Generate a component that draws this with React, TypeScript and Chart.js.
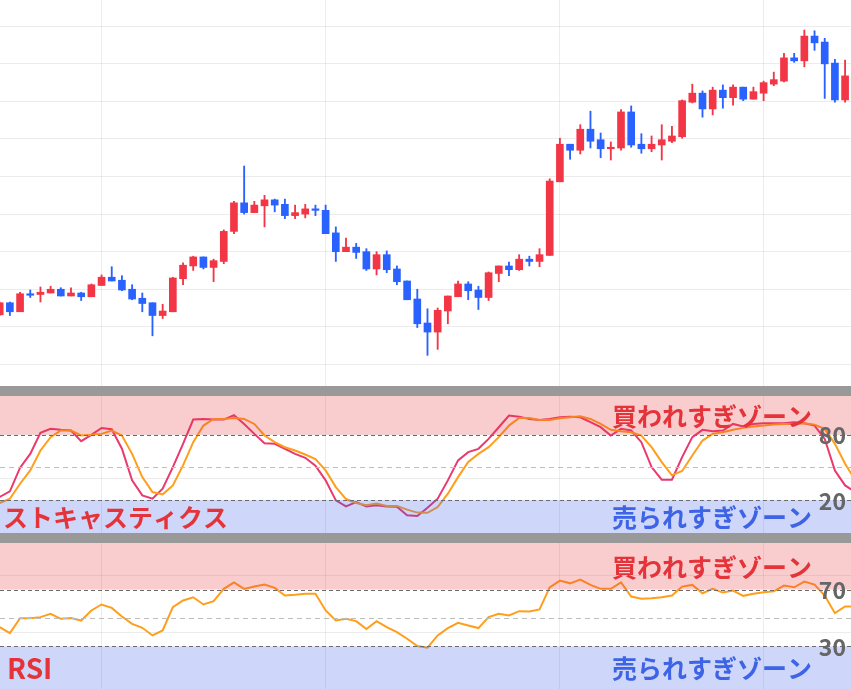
import React, { useEffect, useRef } from "react";
import { Chart, registerables } from "chart.js";

Chart.register(...registerables);

// ---------------- data ----------------
const opens = [
  2066, 2082, 2070, 2094, 2093, 2095, 2100, 2091, 2095, 2090,
  2105, 2116, 2112, 2100, 2088, 2082, 2065, 2070, 2114, 2131,
  2143, 2129, 2137, 2177, 2215, 2202, 2211, 2219, 2213, 2198,
  2200, 2207, 2205, 2175, 2150, 2156, 2150, 2127, 2146, 2127,
  2111, 2087, 2055, 2043, 2071, 2090, 2107, 2099, 2089, 2121,
  2131, 2126, 2140, 2137, 2145, 2243, 2293, 2285, 2313, 2299,
  2287, 2288, 2336, 2293, 2287, 2292, 2297, 2303, 2349, 2361,
  2340, 2365, 2355, 2369, 2353, 2361, 2373, 2377, 2408, 2404,
  2437, 2429, 2401, 2352,
];
const highs = [
  2083, 2083, 2096, 2099, 2103, 2104, 2102, 2102, 2096, 2107,
  2119, 2130, 2118, 2106, 2095, 2082, 2080, 2116, 2135, 2144,
  2143, 2140, 2179, 2217, 2264, 2217, 2225, 2220, 2220, 2212,
  2213, 2212, 2212, 2183, 2168, 2161, 2154, 2150, 2151, 2131,
  2111, 2100, 2074, 2075, 2091, 2111, 2110, 2104, 2123, 2131,
  2136, 2146, 2144, 2154, 2247, 2301, 2293, 2319, 2337, 2308,
  2296, 2339, 2344, 2307, 2304, 2319, 2317, 2352, 2373, 2364,
  2369, 2372, 2372, 2369, 2369, 2377, 2389, 2414, 2414, 2445,
  2444, 2434, 2406, 2405,
];
const lows = [
  2065, 2065, 2070, 2089, 2083, 2095, 2091, 2091, 2085, 2090,
  2105, 2111, 2098, 2086, 2070, 2038, 2061, 2070, 2106, 2125,
  2127, 2110, 2134, 2174, 2200, 2202, 2183, 2203, 2194, 2194,
  2195, 2198, 2174, 2137, 2150, 2141, 2125, 2119, 2122, 2106,
  2086, 2049, 2012, 2020, 2054, 2090, 2086, 2073, 2085, 2110,
  2118, 2125, 2131, 2130, 2145, 2243, 2273, 2280, 2288, 2275,
  2272, 2285, 2289, 2281, 2283, 2272, 2295, 2301, 2348, 2329,
  2332, 2341, 2345, 2351, 2353, 2351, 2371, 2376, 2402, 2396,
  2418, 2354, 2349, 2349,
];
const closes = [
  2082, 2070, 2094, 2092, 2096, 2100, 2091, 2095, 2090, 2106,
  2116, 2111, 2099, 2087, 2081, 2065, 2071, 2115, 2132, 2143,
  2129, 2138, 2177, 2215, 2202, 2212, 2219, 2212, 2198, 2202,
  2207, 2205, 2174, 2150, 2156, 2149, 2127, 2146, 2126, 2110,
  2086, 2054, 2043, 2072, 2091, 2107, 2098, 2089, 2122, 2131,
  2126, 2140, 2137, 2146, 2244, 2293, 2285, 2313, 2297, 2287,
  2289, 2336, 2292, 2287, 2293, 2299, 2304, 2351, 2361, 2340,
  2365, 2355, 2369, 2353, 2363, 2375, 2379, 2408, 2404, 2437,
  2428, 2400, 2352, 2384,
];

const stochK = [
  22.8, 28, 49.6, 62.3, 81.5, 85.2, 84.3, 83.7, 73.9, 79.7,
  86, 84.9, 67, 38, 24.3, 21.2, 30.4, 50.2, 71.5, 93.7,
  94.3, 93.7, 93.7, 97.7, 89.7, 80.6, 72, 71.5, 67, 62.3,
  58.7, 51.4, 38, 19.7, 14.2, 18.2, 14, 15.2, 14, 13.9,
  6, 5.4, 13, 21.2, 38, 56.3, 63.9, 66.9, 76, 86.7,
  97.4, 96.4, 94.3, 93.4, 94.3, 95.8, 96.4, 95.8, 91.3, 86.7,
  79.1, 85.2, 83.7, 73, 50.2, 38.6, 38.6, 59.3, 77.6, 84.3,
  83, 83.7, 89.7, 87.3, 89.7, 90.4, 90.4, 90.4, 91.3, 90.4,
  88.2, 76, 47.1, 33.4, 27.3,
];
const stochD = [
  17.3, 21.2, 34.9, 47.1, 65.4, 77.6, 83.7, 83.7, 79.1, 79.7,
  80.6, 83.7, 79.1, 62.3, 41, 27.3, 25.2, 33.4, 51.7, 73,
  88.2, 94.3, 94.3, 95.2, 94.3, 89.7, 79.1, 73, 68.4, 65.4,
  61.7, 57.5, 47.1, 31.9, 20.9, 17.3, 15.2, 16.7, 14.6, 14.6,
  11.2, 8.5, 8.3, 13.6, 25.8, 41, 54.8, 62.3, 68.4, 77.6,
  88.2, 95.2, 95.2, 93.4, 93.4, 94.9, 95.8, 96.7, 94.3, 89.7,
  84.3, 83, 82.1, 79.1, 68.4, 54.8, 42.6, 46.6, 60.8, 74.5,
  80.6, 82.1, 84.3, 86.1, 87.3, 88.2, 89.1, 89.7, 89.7, 90.4,
  89.1, 85.2, 71.5, 53.3, 38,
];
const rsi = [
  43.6, 39.4, 49.9, 49.9, 50.6, 52.9, 49.4, 49.9, 48.2, 55.3,
  59.5, 57.1, 51, 45.9, 43.1, 37.7, 41.2, 57.6, 62.3, 64.6,
  59.5, 61.8, 70.5, 75.1, 70.5, 72.1, 73.5, 71.2, 65.8, 66.3,
  67, 67, 55.3, 48.2, 49.4, 47.8, 42.2, 47.8, 43.6, 40,
  35.4, 30.2, 29.1, 37.7, 42.9, 46.6, 44.7, 42.9, 50.6, 52.9,
  51.8, 54.8, 54.6, 56, 71.6, 76.3, 74.4, 77, 73.3, 70.5,
  70.5, 75.1, 65.1, 63.5, 63.9, 64.6, 65.8, 72.1, 73.3, 67.4,
  70.5, 67.9, 69.3, 65.6, 67, 68.1, 68.8, 72.8, 71.6, 75.6,
  73.5, 65.8, 53.4, 58.1, 58.1,
];

const monthStartIdx = [10, 32, 55, 75];
const priceGrid = [2000, 2050, 2100, 2150, 2200, 2250, 2300, 2350, 2400, 2450];
const oscGrid = [40, 80];
const stochLevels = [80, 50, 20];
const rsiLevels = [70, 50, 30];
const stochTitle = "ストキャスティクス";
const rsiTitle = "RSI";
const overboughtLabel = "買われすぎゾーン";
const oversoldLabel = "売られすぎゾーン";

// ---------------- styles ----------------
const W = 851;
const X_MIN = 0.03;
const X_MAX = 83.58;
const UP = "#f23645";
const DOWN = "#2962ff";
const GRID = "rgba(0,0,0,0.075)";
const K_COLOR = "#e9396f";
const D_COLOR = "#ff9e1b";
const TEXT_RED = "#e5333a";
const TEXT_BLUE = "#3d63e6";
const JP = '"Noto Sans CJK JP", "Noto Sans", sans-serif';

const xScale = (): any => ({
  type: "linear",
  min: X_MIN,
  max: X_MAX,
  offset: false,
  grid: { color: GRID, drawTicks: false, lineWidth: 1, offset: false },
  border: { display: false },
  ticks: { display: false },
  afterBuildTicks: (s: any) => {
    s.ticks = monthStartIdx.map((v) => ({ value: v }));
  },
});

const yScale = (min: number, max: number, grid: number[]): any => ({
  type: "linear",
  min,
  max,
  grid: { color: GRID, drawTicks: false, lineWidth: 1, offset: false },
  border: { display: false },
  ticks: { display: false },
  afterBuildTicks: (s: any) => {
    s.ticks = grid.map((v) => ({ value: v }));
  },
});

const zonePlugin = {
  id: "zones",
  afterDatasetsDraw(chart: any, _args: any, opts: any) {
    const { ctx, chartArea: a } = chart;
    const y = chart.scales.y;
    const [upper, mid, lower] = opts.levels as number[];
    const yU = y.getPixelForValue(upper);
    const yM = y.getPixelForValue(mid);
    const yL = y.getPixelForValue(lower);
    ctx.save();
    ctx.fillStyle = "rgba(230,50,60,0.25)";
    ctx.fillRect(a.left, a.top, a.width, yU - a.top);
    ctx.fillStyle = "rgba(60,95,235,0.25)";
    ctx.fillRect(a.left, yL, a.width, a.bottom - yL);

    ctx.lineWidth = 1;
    const hline = (yy: number) => {
      const p = Math.round(yy) + 0.5;
      ctx.beginPath();
      ctx.moveTo(a.left, p);
      ctx.lineTo(a.right, p);
      ctx.stroke();
    };
    ctx.setLineDash([4, 3]);
    ctx.strokeStyle = "#6b6b6b";
    hline(yU);
    hline(yL);
    ctx.setLineDash([5, 4]);
    ctx.strokeStyle = "#bdbdbd";
    hline(yM);
    ctx.setLineDash([]);

    ctx.textBaseline = "middle";
    ctx.font = `bold 25px ${JP}`;
    ctx.textAlign = "right";
    ctx.fillStyle = TEXT_RED;
    ctx.fillText(overboughtLabel, 812, (a.top + yU) / 2 + 1);
    ctx.fillStyle = TEXT_BLUE;
    ctx.fillText(oversoldLabel, 812, (yL + a.bottom) / 2 + 1);

    ctx.textAlign = "left";
    ctx.fillStyle = TEXT_RED;
    ctx.font = opts.titleFont;
    ctx.fillText(opts.title, opts.titleX, (yL + a.bottom) / 2 + 1);

    ctx.font = `bold 23px ${JP}`;
    ctx.fillStyle = "#666666";
    ctx.textAlign = "right";
    ctx.fillText(String(upper), 846, yU + 1);
    ctx.fillText(String(lower), 846, yL + 1);
    ctx.restore();
  },
};

export default function App() {
  const candleRef = useRef<HTMLCanvasElement>(null);
  const stochRef = useRef<HTMLCanvasElement>(null);
  const rsiRef = useRef<HTMLCanvasElement>(null);

  useEffect(() => {
    const charts: Chart[] = [];
    const colorOf = (i: number) => (closes[i] >= opens[i] ? UP : DOWN);

    charts.push(
      new Chart(candleRef.current!, {
        type: "bar",
        data: {
          datasets: [
            {
              label: "body",
              data: opens.map((o, i) => ({ x: i, y: [o, closes[i]] })) as any,
              backgroundColor: opens.map((_, i) => colorOf(i)),
              barThickness: 7,
              grouped: false,
              order: 0,
            } as any,
            {
              label: "wick",
              data: lows.map((l, i) => ({ x: i, y: [l, highs[i]] })) as any,
              backgroundColor: lows.map((_, i) => colorOf(i)),
              barThickness: 1.2,
              grouped: false,
              order: 1,
            } as any,
          ],
        },
        options: {
          responsive: false,
          animation: false,
          layout: { padding: 0 },
          plugins: { legend: { display: false }, tooltip: { enabled: false } },
          scales: {
            x: xScale(),
            y: yScale(1971.2, 2485, priceGrid),
          },
        } as any,
      })
    );

    const lineDs = (label: string, values: number[], color: string, order: number) => ({
      label,
      data: values.map((v, i) => ({ x: i, y: v })),
      borderColor: color,
      borderWidth: 2,
      pointRadius: 0,
      tension: 0,
      fill: false,
      order,
    });

    charts.push(
      new Chart(stochRef.current!, {
        type: "line",
        data: {
          datasets: [
            lineDs("%K", stochK, K_COLOR, 1),
            lineDs("%D", stochD, D_COLOR, 0),
          ] as any,
        },
        options: {
          responsive: false,
          animation: false,
          layout: { padding: 0 },
          plugins: {
            legend: { display: false },
            tooltip: { enabled: false },
            zones: {
              levels: stochLevels,
              title: stochTitle,
              titleFont: `bold 25px ${JP}`,
              titleX: 3,
            },
          },
          scales: {
            x: xScale(),
            y: yScale(-10.2, 115.3, oscGrid),
          },
        } as any,
        plugins: [zonePlugin as any],
      })
    );

    charts.push(
      new Chart(rsiRef.current!, {
        type: "line",
        data: {
          datasets: [lineDs("RSI", rsi, D_COLOR, 0)] as any,
        },
        options: {
          responsive: false,
          animation: false,
          layout: { padding: 0 },
          plugins: {
            legend: { display: false },
            tooltip: { enabled: false },
            zones: {
              levels: rsiLevels,
              title: rsiTitle,
              titleFont: `bold 28px ${JP}`,
              titleX: 7,
            },
          },
          scales: {
            x: xScale(),
            y: yScale(0, 102.8, oscGrid),
          },
        } as any,
        plugins: [zonePlugin as any],
      })
    );

    return () => charts.forEach((c) => c.destroy());
  }, []);

  const abs = (top: number, height: number): React.CSSProperties => ({
    position: "absolute",
    left: 0,
    top,
    width: W,
    height,
    display: "block",
  });

  return (
    <div
      style={{
        position: "fixed",
        left: 0,
        top: 0,
        width: W,
        height: 689,
        background: "#ffffff",
        overflow: "hidden",
      }}
    >
      <canvas ref={candleRef} width={W} height={386} style={abs(0, 386)} />
      <div style={{ ...abs(386, 10), background: "#999999" }} />
      <canvas ref={stochRef} width={W} height={137} style={abs(396, 137)} />
      <div style={{ ...abs(533, 10), background: "#999999" }} />
      <canvas ref={rsiRef} width={W} height={146} style={abs(543, 146)} />
    </div>
  );
}
